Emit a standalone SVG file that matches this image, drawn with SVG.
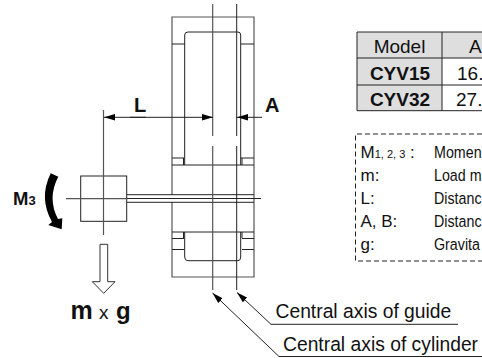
<svg xmlns="http://www.w3.org/2000/svg" width="482" height="358" viewBox="0 0 482 358">
<defs><marker id="a" markerWidth="12" markerHeight="8" refX="11" refY="4" orient="auto" markerUnits="userSpaceOnUse"><path d="M0,0.800 L11,4 L0,7.200 Z" fill="#000"/></marker></defs>
<style>
text{font-family:"Liberation Sans",Arial,sans-serif;fill:#111}
.l{fill:none;stroke:#222;stroke-width:1}
.g{fill:none;stroke:#555;stroke-width:1.2}
.b{font-weight:bold}
.s{font-size:17px}
.t{font-size:19px}
.c{font-size:19.300px}
</style>
<rect width="482" height="358" fill="#fff"/>
<g id="cylinder">
<path class="g" d="M172,195 V17 H254 V277 H172 V202"/>
<path class="l" d="M184.700,165 V35 Q184.700,32 188,32 H238 Q240.700,32 240.700,35 V165 M172,44 H184.700 M241,44 H254 M172,158 H184 M241,158 H254 M172,165 H254 M183.500,158 V165 M242,158 V165"/>
<path class="l" d="M172,232 H254 M172,238.500 H184 M242,238.500 H254 M172,249.500 H184 M242,249.500 H254 M184.700,232 V257 Q184.700,260.700 188,260.700 H238 Q240.700,260.700 240.700,257 V232 M183.500,232 V238 M242,232 V238"/>
</g>
<g id="load">
<rect class="l" x="80.700" y="176" width="46" height="45.300"/>
<path class="g" d="M66,198.700 H127 M103.500,110 V235"/>
<path class="l" d="M127,194.700 H254 M127,198.500 H261 M127,202.300 H254"/>
</g>
<g id="connectors">
<path class="g" d="M212.700,4 V290"/>
<path class="l" d="M236.700,4 V290"/>
<path d="M211,136 h3.500 v10 h-3.500 Z M235.500,136 h2.500 v10 h-2.500 Z" fill="#fff"/>
<path class="l" d="M146,117.300 H104" marker-end="url(#a)"/>
<path class="l" d="M130,117.300 H213" marker-end="url(#a)"/>
<path class="l" d="M262,117.300 H237" marker-end="url(#a)"/>
<path class="l" d="M271,324.300 L237,292.500" marker-end="url(#a)"/>
<path class="l" d="M271,324.300 H458"/>
<path class="l" d="M279,356.500 L212.500,293" marker-end="url(#a)"/>
<path class="l" d="M279,356.500 H482"/>
<path d="M100,244.300 H107.700 V281.700 H115 L103.700,293.300 L92.300,281.700 H100 Z" fill="#fff" stroke="#333"/>
<path d="M50.700,173.300 L58.300,176.700 Q47,198 58,219 L62.300,218.300 L61.700,229.300 L48.300,225 L52,222 Q38.500,198 50.700,173.300 Z" fill="#000"/>
</g>
<g id="labels">
<text class="b" x="134" y="111.700" style="font-size:20px">L</text>
<text class="b" x="265" y="112" style="font-size:20px">A</text>
<text class="b" x="13" y="205" style="font-size:18.500px">M<tspan style="font-size:13px">3</tspan></text>
<text class="b" x="70.500" y="318.500" style="font-size:25px">m</text>
<text x="99" y="318.500" style="font-size:19px">x</text>
<text class="b" x="116" y="318.500" style="font-size:24px">g</text>
<text class="c" x="275.500" y="318">Central axis of guide</text>
<text class="c" x="283" y="350.500">Central axis of cylinder</text>
</g>
<g id="table">
<path d="M357,32 H482 V58 H357 Z" fill="#dedede"/>
<path d="M357,58 H442 V110.700 H357 Z" fill="#dedede"/>
<path class="l" d="M482,32 H357 V110.700 H482 M357,58 H482 M357,85 H482 M442,32 V110.700" stroke-width="1.300"/>
<text class="t" x="399.500" y="52.700" text-anchor="middle">Model</text>
<text class="t b" x="400" y="80" text-anchor="middle">CYV15</text>
<text class="t b" x="400" y="106" text-anchor="middle">CYV32</text>
<text class="t" x="469" y="52.700">A</text>
<text class="t" x="457" y="80">16.</text>
<text class="t" x="456" y="106">27.</text>
</g>
<g id="legend">
<path d="M482,134 H355.500 V261 H482" fill="none" stroke="#222" stroke-dasharray="5 3"/>
<text class="s" x="360.500" y="158">M<tspan style="font-size:11px">1, 2, 3</tspan> :</text>
<text class="s" x="360.500" y="181">m:</text>
<text class="s" x="360.500" y="204">L:</text>
<text class="s" x="360.500" y="227">A, B:</text>
<text class="s" x="360.500" y="250">g:</text>
<g transform="translate(434 0) scale(.84 1)">
<text class="s" y="158">Momen</text>
<text class="s" y="181">Load m</text>
<text class="s" y="204">Distanc</text>
<text class="s" y="227">Distanc</text>
<text class="s" y="250">Gravita</text>
</g>
</g>
</svg>
